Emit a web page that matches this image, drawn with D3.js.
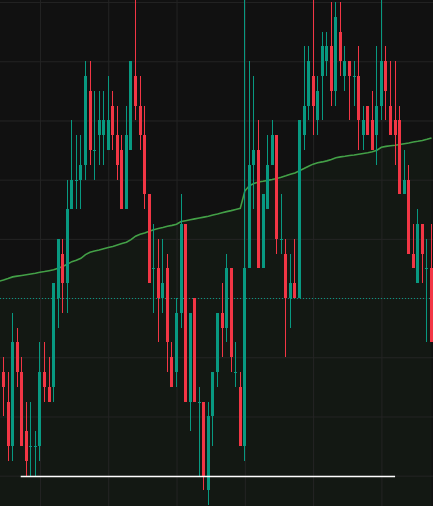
<!DOCTYPE html>
<html>
<head>
<meta charset="utf-8">
<script src="https://cdn.jsdelivr.net/npm/d3@7"></script>
<style>
  html, body { margin: 0; padding: 0; background: #111111; overflow: hidden; }
  svg { display: block; }
</style>
</head>
<body>
<div id="chart"></div>
<script>
// one value per bar, left to right
const open = [107,105,102,109,107,103,102,102,102,107, 106,106,112,115,113,118,120,120,121,126,
  122,123,123,122,125,123,122,118,122,127, 125,123,119,114,114,112,114,108,107,111,
  117,105,112,105,105,99,104,107,111,110, 114,107,106,102,114,121,122,114,118,121,
  123,116,115,112,113,112,123,125,127,124, 127,128,129,126,130,127,128,127,127,123,
  125,124,123,125,128,125,124,124,119,120, 115,113,117,114,114];
const high = [108,107,111,110,108,105,105,103,109,109, 108,113,116,116,120,124,123,123,128,128,
  126,126,126,127,126,125,123,125,128,133, 127,125,119,117,116,116,115,109,112,119,
  117,111,112,106,105,105,107,111,113,115, 114,109,107,133,128,127,124,119,123,124,
  123,119,116,115,116,124,129,129,133,127, 130,130,132,132,132,129,128,128,129,125,
  125,126,129,133,129,128,128,125,122,121, 117,118,117,116,117];
const low = [104,101,101,106,102,100,100,100,101,105, 105,105,110,111,111,118,118,118,120,121,
  120,121,121,122,122,120,118,118,122,124, 122,118,113,111,109,111,107,106,106,110,
  105,103,105,100,99,98,102,106,108,109, 107,106,102,101,114,118,114,114,118,121,
  115,115,108,110,112,112,122,124,123,123, 124,127,125,125,127,126,124,125,122,122,
  123,122,121,124,124,123,121,119,119,115, 114,113,113,109,109];
const close = [106,102,109,107,102,101,102,102,107,106, 105,113,116,113,118,120,120,121,127,122,
  122,124,124,124,123,121,118,123,128,125, 123,119,113,114,112,113,109,106,111,117,
  105,111,105,105,100,104,107,111,110,114, 108,107,102,114,121,122,114,119,121,123,
  116,116,112,113,112,124,125,128,125,126, 129,129,126,131,128,128,127,127,124,124,
  123,122,125,128,126,123,123,119,120,115, 114,117,115,114,109];

// average line, first value is the bar just off the left edge
const ma = [113.13, 113.22,113.32,113.43,113.48,113.53,113.58,113.63,113.68,113.74,113.79,
  113.85,113.91,114.02,114.14,114.28,114.46,114.55,114.69,114.94,115.10,
  115.18,115.25,115.33,115.41,115.49,115.59,115.68,115.77,115.95,116.18,
  116.31,116.39,116.51,116.62,116.70,116.77,116.85,116.91,116.99,117.17,
  117.23,117.29,117.35,117.41,117.47,117.53,117.61,117.68,117.76,117.84,
  117.91,117.99,118.06,119.23,119.59,119.74,119.84,119.89,119.95,120.01,
  120.08,120.16,120.26,120.37,120.45,120.60,120.75,120.91,121.05,121.14,
  121.20,121.27,121.37,121.48,121.54,121.58,121.63,121.67,121.72,121.77,
  121.82,121.88,121.99,122.19,122.25,122.29,122.33,122.38,122.43,122.48,
  122.54,122.59,122.65,122.73,122.82];

const gridPrices = [100, 104, 108, 112, 116, 120, 124, 128, 132];
const gridBars = [8, 23, 38, 53, 68, 83];
const markPrice = 112;
const floorPrice = 100;
const floorBars = [4, 86];

const width = 433, height = 506;
const upColor = "#089981", downColor = "#f23645";

const svg = d3.select("#chart")
  .append("svg")
    .attr("width", width)
    .attr("height", height);

const x = d3.scaleLinear()
    .domain([0, open.length - 1])
    .range([3.5, 431.5]);
const y = d3.scaleLinear()
    .domain([97.95, 132.14])
    .range([height, 0]);

svg.append("rect")
    .attr("width", width)
    .attr("height", height)
    .attr("fill", "#111111");

// tinted area under the average
svg.append("path")
    .datum(ma)
    .attr("fill", "rgba(76,175,80,0.045)")
    .attr("d", d3.area()
      .x((d, i) => x(i - 1))
      .y0(height)
      .y1(d => y(d)));

// grid
const gy = svg.append("g")
    .call(d3.axisLeft(y).tickValues(gridPrices).tickSize(-width).tickFormat(""));
const gx = svg.append("g")
    .attr("transform", `translate(0,${height})`)
    .call(d3.axisBottom(x).tickValues(gridBars).tickSize(-height).tickFormat(""));
[gy, gx].forEach(g => {
  g.select(".domain").remove();
  g.selectAll("line").attr("stroke", "#242424");
});

// dotted price line
svg.append("line")
    .attr("x1", 0)
    .attr("x2", width)
    .attr("y1", Math.round(y(markPrice)) + 0.5)
    .attr("y2", Math.round(y(markPrice)) + 0.5)
    .attr("stroke", upColor)
    .attr("stroke-dasharray", "1 2");

svg.append("path")
    .datum(ma)
    .attr("fill", "none")
    .attr("stroke", "#43a047")
    .attr("stroke-width", 1.6)
    .attr("d", d3.line()
      .x((d, i) => x(i - 1))
      .y(d => y(d)));

const bars = svg.append("g")
  .selectAll("g")
  .data(open.map((o, i) => ({i, o, h: high[i], l: low[i], c: close[i]})))
  .join("g")
    .attr("fill", d => d.c >= d.o ? upColor : downColor)
    .attr("stroke", d => d.c >= d.o ? upColor : downColor);

bars.append("line")
    .attr("x1", d => Math.floor(x(d.i)) + 0.5)
    .attr("x2", d => Math.floor(x(d.i)) + 0.5)
    .attr("y1", d => Math.round(y(d.h)))
    .attr("y2", d => Math.round(y(d.l)));

bars.append("rect")
    .attr("stroke", "none")
    .attr("x", d => Math.round(x(d.i) - 1.5))
    .attr("width", 3)
    .attr("y", d => Math.round(y(Math.max(d.o, d.c))))
    .attr("height", d => Math.max(1, Math.round(y(Math.min(d.o, d.c))) - Math.round(y(Math.max(d.o, d.c)))));

svg.append("line")
    .attr("x1", x(floorBars[0]) - 1)
    .attr("x2", x(floorBars[1]))
    .attr("y1", Math.round(y(floorPrice)) + 0.5)
    .attr("y2", Math.round(y(floorPrice)) + 0.5)
    .attr("stroke", "#ffffff")
    .attr("stroke-width", 1.5);
</script>
</body>
</html>
